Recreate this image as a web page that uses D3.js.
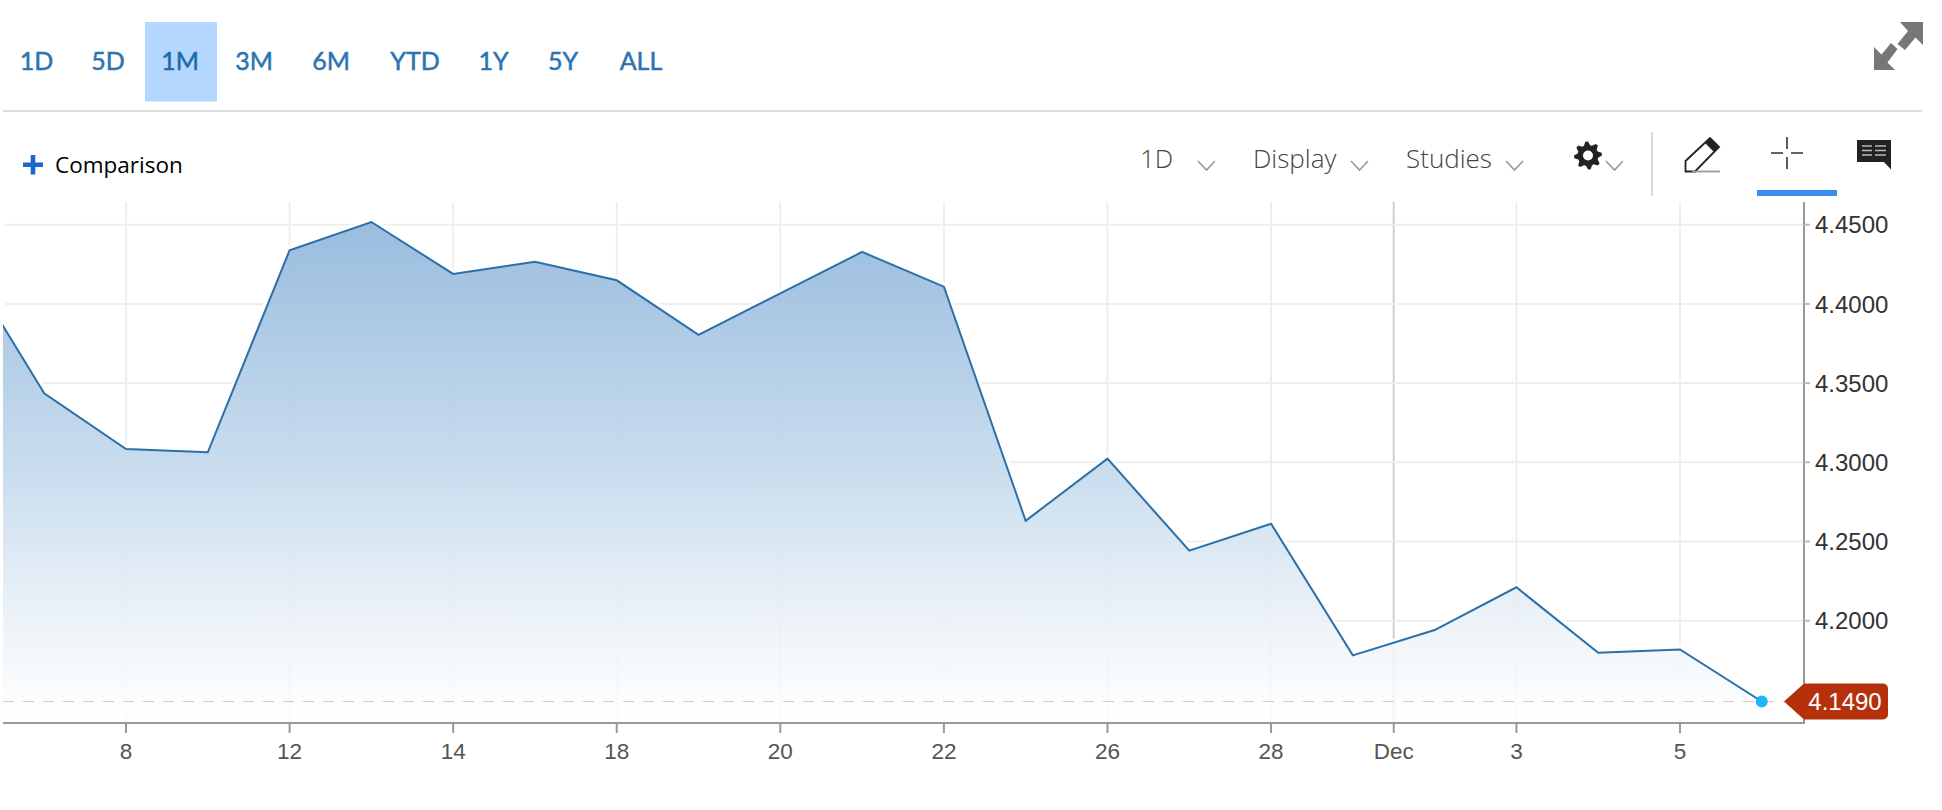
<!DOCTYPE html>
<html><head><meta charset="utf-8">
<script src="https://cdn.jsdelivr.net/npm/d3@7/dist/d3.min.js"></script>
<style>html,body{margin:0;padding:0;background:#fff;overflow:hidden}svg{display:block}</style>
</head><body><svg id="c" width="1942" height="810"></svg>
<script>
const sessions = ["Nov 6","Nov 7","Nov 8","Nov 10","Nov 12","Nov 13","Nov 14","Nov 16","Nov 18","Nov 19","Nov 20","Nov 21","Nov 22","Nov 24","Nov 26","Nov 27","Nov 28","Nov 29","Nov 30","Dec 3","Dec 4","Dec 5","Dec 6"];
const yields = [4.428,4.3436,4.3084,4.3063,4.4338,4.4517,4.4189,4.4266,4.4149,4.3804,4.4066,4.4328,4.4109,4.2631,4.3023,4.2442,4.2612,4.1781,4.1941,4.2211,4.1797,4.1818,4.1490];
const xTickLabels = ["8","12","14","18","20","22","26","28","Dec","3","5"];
const xTickSlots = [2,4,6,8,10,12,14,16,17.5,19,21];
const yTickValues = [4.45,4.40,4.35,4.30,4.25,4.20];
const ranges = ["1D","5D","1M","3M","6M","YTD","1Y","5Y","ALL"];
const activeRange = "1M";
const lastValue = yields[yields.length-1];

const svg = d3.select("#c");
const UI = "Lato, 'Open Sans', sans-serif", UI2 = "'Open Sans', Lato, sans-serif", AX = "'Liberation Sans', Arial, sans-serif";
const pLeft=3, pRight=1804, pTop=202, pBottom=723;
const x = d3.scaleLinear().domain([2,21]).range([126,1680]);
const y = d3.scaleLinear().domain([4.20,4.45]).range([620.7,224.7]);

const defs = svg.append("defs");
const g = defs.append("linearGradient").attr("id","fill").attr("gradientUnits","userSpaceOnUse")
  .attr("x1",0).attr("x2",0).attr("y1",222).attr("y2",pBottom);
[[0,"#94b9dc",.95],[.5,"#c5daed",.92],[.85,"#f0f5f9",.85],[1,"#ffffff",.8]].forEach(s=>
  g.append("stop").attr("offset",s[0]).attr("stop-color",s[1]).attr("stop-opacity",s[2]));
defs.append("clipPath").attr("id","plot").append("rect").attr("x",pLeft).attr("y",pTop).attr("width",pRight-pLeft).attr("height",pBottom-pTop);

// range selector
const rangeCx = [36.5,108,180,254,331,415,493.5,563,641];
svg.append("rect").attr("x",145).attr("y",22).attr("width",72).attr("height",79.5).attr("fill","#b3d7ff");
svg.selectAll("text.range").data(ranges).join("text").attr("class","range")
  .attr("x",(d,i)=>rangeCx[i]).attr("y",70).attr("text-anchor","middle")
  .attr("font-family",UI).attr("font-size",25).attr("font-weight",400)
  .attr("stroke-width",.5)
  .attr("fill",d=>d===activeRange?"#1f6aa8":"#2b74b1").attr("stroke",d=>d===activeRange?"#1f6aa8":"#2b74b1").text(d=>d);
svg.append("line").attr("x1",3).attr("x2",1922).attr("y1",111).attr("y2",111).attr("stroke","#ddd").attr("stroke-width",2);

// expand icon
const ic = svg.append("g").attr("fill","#777");
ic.append("path").attr("d","M1900 22H1923V45L1915.5 37.5L1905 50L1897.5 44L1908 31Z");
ic.append("path").attr("d","M1874 70V47L1881.5 54.5L1891 43L1897.5 49L1887.5 62.5L1895 70Z");

// comparison
svg.append("path").attr("d","M23 162.5H43V167H23ZM30.7 155H35.3V174.5H30.7Z").attr("fill","#1a66cc");
svg.append("text").attr("x",55).attr("y",173).attr("font-family",UI2).attr("font-size",22.5).attr("fill","#000").text("Comparison");

// toolbar
const toolItems=[["1D",1140],["Display",1253],["Studies",1406]];
svg.selectAll("text.tool").data(toolItems).join("text").attr("class","tool").attr("x",d=>d[1]).attr("y",168)
  .attr("font-family",UI2).attr("font-size",26).attr("font-weight",300).attr("fill","#444").text(d=>d[0]);
svg.selectAll("path.chev").data([1198,1351,1506,1606]).join("path").attr("class","chev")
  .attr("d",d=>`M${d} 161L${d+8.5} 170L${d+17} 161`).attr("fill","none").attr("stroke","#999").attr("stroke-width",1.6);
// gear
const gc=[1588,155.5], teeth=8; let gp="";
for(let i=0;i<teeth*4;i++){const a=i/(teeth*4)*2*Math.PI-Math.PI/16,r=(i%4<2)?14:10.5;gp+=(i?"L":"M")+(gc[0]+r*Math.cos(a)).toFixed(1)+" "+(gc[1]+r*Math.sin(a)).toFixed(1);}
svg.append("path").attr("d",gp+"Z M"+(gc[0]+5)+" "+gc[1]+"A5 5 0 1 0 "+(gc[0]-5)+" "+gc[1]+"A5 5 0 1 0 "+(gc[0]+5)+" "+gc[1]+"Z").attr("fill","#222").attr("fill-rule","evenodd");
svg.append("line").attr("x1",1652).attr("x2",1652).attr("y1",132).attr("y2",196).attr("stroke","#ccc").attr("stroke-width",1.5);
// pencil
svg.append("path").attr("d","M1685.5 171.5V161L1710 138L1719 147L1695 171.5Z").attr("fill","none").attr("stroke","#222").attr("stroke-width",1.8);
svg.append("path").attr("d","M1705 143L1710 138L1719 147L1714 152Z").attr("fill","#222");
svg.append("line").attr("x1",1692).attr("x2",1720).attr("y1",171.5).attr("y2",171.5).attr("stroke","#999").attr("stroke-width",1.8);
// crosshair
svg.append("path").attr("d","M1787 137V149M1787 157V169M1771 153H1783M1791 153H1803").attr("stroke","#333").attr("stroke-width",1.6).attr("fill","none");
svg.append("rect").attr("x",1757).attr("y",190).attr("width",80).attr("height",6).attr("fill","#3b8bf0");
// comment
svg.append("path").attr("d","M1857 140H1891V169.5L1884 162H1857Z").attr("fill","#222");
svg.append("path").attr("d","M1862 146H1872M1862 150.5H1872M1875 150.5H1886M1862 155H1872M1875 155H1886M1875 146H1886").attr("stroke","#bbb").attr("stroke-width",1.6);

// grid
const gridX = svg.append("g");
gridX.selectAll("line").data(xTickSlots).join("line").attr("x1",d=>x(d)).attr("x2",d=>x(d)).attr("y1",pTop).attr("y2",pBottom)
  .attr("stroke",(d,i)=>xTickLabels[i]==="Dec"?"#cfcfcf":"#eeeeee").attr("stroke-width",2);
svg.append("g").selectAll("line").data(yTickValues).join("line").attr("x1",5).attr("x2",pRight).attr("y1",d=>y(d)).attr("y2",d=>y(d))
  .attr("stroke","#eeeeee").attr("stroke-width",2);

// series
const pts = yields.map((v,i)=>[i,v]);
const line = d3.line().x(d=>x(d[0])).y(d=>y(d[1]));
const area = d3.area().x(d=>x(d[0])).y0(pBottom).y1(d=>y(d[1]));
const pl = svg.append("g").attr("clip-path","url(#plot)");
pl.append("path").attr("d",line(pts)).attr("fill","none").attr("stroke","#fff").attr("stroke-width",8).attr("stroke-linejoin","round");
pl.append("path").attr("d",area(pts)).attr("fill","url(#fill)");
pl.append("line").attr("x1",pLeft).attr("x2",1784).attr("y1",y(lastValue)).attr("y2",y(lastValue))
  .attr("stroke","#e6c4bc").attr("stroke-width",1).attr("stroke-dasharray","11 9");
pl.append("path").attr("d",line(pts)).attr("fill","none").attr("stroke","#2a6fa8").attr("stroke-width",2);
svg.append("circle").attr("cx",x(pts.length-1)).attr("cy",y(lastValue)).attr("r",6).attr("fill","#22b5ff");

// axes
const xAxis = d3.axisBottom(x).offset(0).tickValues(xTickSlots).tickSize(10).tickPadding(8).tickFormat((d,i)=>xTickLabels[i]);
const gx = svg.append("g").attr("transform",`translate(0,${pBottom})`).call(xAxis);
gx.select(".domain").attr("d",`M${pLeft},0H${pRight+1}`).attr("stroke","#999").attr("stroke-width",2);
gx.selectAll(".tick line").attr("stroke","#999").attr("stroke-width",2);
gx.selectAll(".tick text").attr("font-family",AX).attr("font-size",22.5).attr("fill","#555").attr("y",36).attr("dy",0);
const yAxis = d3.axisRight(y).offset(0).tickValues(yTickValues).tickSize(6).tickPadding(5).tickFormat(d3.format(".4f"));
const gy = svg.append("g").attr("transform",`translate(${pRight},0)`).call(yAxis);
gy.select(".domain").attr("d",`M0,${pTop}V${pBottom}`).attr("stroke","#999").attr("stroke-width",2);
gy.selectAll(".tick line").attr("stroke","#bbb").attr("stroke-width",2);
gy.selectAll(".tick text").attr("font-family",AX).attr("font-size",24).attr("fill","#333").attr("y",1);

// last price tag
const ty=y(lastValue);
svg.append("path").attr("d",`M1784 ${ty}L1804 ${ty-18}H1883A5 5 0 0 1 1888 ${ty-13}V${ty+13}A5 5 0 0 1 1883 ${ty+18}H1804Z`).attr("fill","#b5310c");
svg.append("text").attr("x",1845).attr("y",ty+9).attr("text-anchor","middle").attr("font-family",AX).attr("font-size",24).attr("fill","#fff").text(d3.format(".4f")(lastValue));
</script></body></html>
